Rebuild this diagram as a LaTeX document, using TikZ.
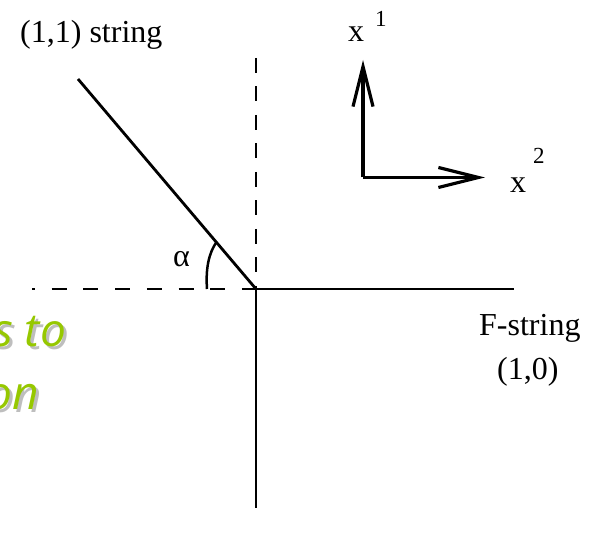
\documentclass[tikz,border=0pt]{standalone}
\usepackage{fontspec}
\setmainfont{Liberation Serif}
\newfontfamily\handfont{Open Sans}
\usetikzlibrary{arrows.meta,calc}
\definecolor{hgreen}{RGB}{150,200,0}
\definecolor{hshadow}{RGB}{190,190,190}
\begin{document}
\begin{tikzpicture}[x=1pt,y=-1pt,
  solidline/.style={line width=2.8pt,line cap=butt},
  hdash/.style={line width=2.8pt,dash pattern=on 15pt off 16.7pt},
  vdash/.style={line width=2.8pt,dash pattern=on 15pt off 13.5pt},
  axisline/.style={line width=3.6pt,-{Straight Barb[length=40pt,width=20pt,line width=3.2pt]}},
  lbl/.style={inner sep=0pt,anchor=base west,font=\fontsize{32}{34}\selectfont},
  suplbl/.style={inner sep=0pt,anchor=base west,font=\fontsize{23}{25}\selectfont},
  handlbl/.style={inner sep=0pt,anchor=base west,font=\handfont\itshape\fontsize{46}{48}\selectfont}]
\useasboundingbox (0,0) rectangle (590,537);
\clip (0,0) rectangle (590,537);
% points
\coordinate (O) at (256,289);
\coordinate (E) at (514,289);
\coordinate (S) at (256,508);
\coordinate (W) at (32,289);
\coordinate (N) at (256,58);
\coordinate (D) at (78,79);
\coordinate (A0) at (363,177.5);
\coordinate (A1) at (363,60);
\coordinate (A2) at (485,177.5);
\coordinate (ArcS) at (207,289);
\coordinate (ArcE) at ($(O)!0.2227!(D)$);
% lines
\draw[solidline] (O) -- (E);
\draw[solidline] (O) -- (S);
\draw[solidline] (D) -- (O);
\draw[hdash,dash phase=12pt] (W) -- (O);
\draw[vdash] (N) -- (O);
\draw[line width=2.5pt] (ArcS) .. controls (205.5,268) and (209,253) .. (ArcE);
% axes
\draw[axisline] (A0) -- (A1);
\draw[axisline] (A0) -- (A2);
% labels
\node[lbl] (l11) at (20,43) {(1,1) string};
\node[lbl] (alpha) at (173,267) {α};
\node[lbl] (x1) at (348,42) {x};
\node[suplbl] (s1) at (375,27) {1};
\node[lbl] (x2) at (510,193) {x};
\node[suplbl] (s2) at (533,164) {2};
\node[lbl] (fs) at (479,336) {F-string};
\node[lbl] (f10) at (497,380) {(1,0)};
% green text with shadow
\node[handlbl,text=hshadow] at (-4,350) {s to};
\node[handlbl,text=hgreen] (g1) at (-7,347) {s to};
\node[handlbl,text=hshadow] at (-11,413) {on};
\node[handlbl,text=hgreen] (g2) at (-14,410) {on};
\end{tikzpicture}
\end{document}
